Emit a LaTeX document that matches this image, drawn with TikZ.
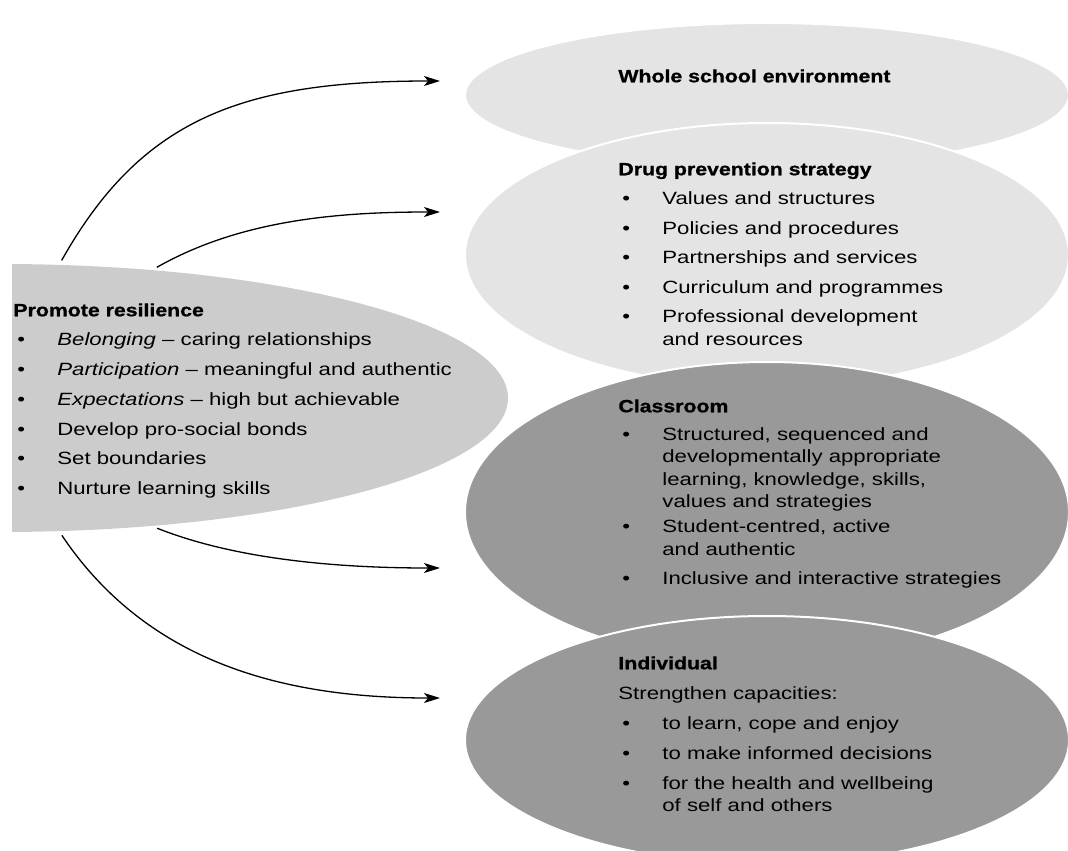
\documentclass[tikz,border=0pt]{standalone}
\usepackage{fontspec}
\setmainfont{Liberation Sans}[FakeStretch=1.25]
\newfontfamily\headfont{Liberation Sans}[FakeStretch=1.2,FakeBold=1]
\usetikzlibrary{shapes.geometric,arrows.meta}
\definecolor{palegrey}{HTML}{E4E4E4}
\definecolor{midgrey}{HTML}{CCCCCC}
\definecolor{darkgrey}{HTML}{999999}
\newcommand{\bitem}{\hspace*{2pt}\makebox[20pt][l]{\textbullet}}
\newcommand{\bcont}{\hspace*{22pt}}
\newcommand{\bhead}[1]{{\headfont\bfseries #1}}

\begin{document}
\begin{tikzpicture}[x=0.5pt,y=-0.5pt,
    zone/.style={ellipse,draw=white,line width=1pt,inner sep=0pt,minimum width=302pt},
    txt/.style={anchor=north west,inner sep=0pt,align=left,font=\fontsize{8.87}{11.25}\selectfont},
    flow/.style={-{Stealth[length=8pt,width=5pt,inset=2pt]},line width=0.65pt,shorten <=2pt}]
    \useasboundingbox (0,0) rectangle (1068,850);
    \clip (0,0) rectangle (1068,850);

    \begin{scope}
        \clip (12,0) rectangle (1068,850);
        \node[zone,draw=none,fill=midgrey,minimum width=508pt,minimum height=134pt] (resil) at (0,398) {};
    \end{scope}
    \node[zone,fill=palegrey,minimum height=72pt] (whole) at (767,95) {};
    \node[zone,fill=palegrey,minimum height=132pt] (drug) at (767,255) {};
    \node[zone,fill=darkgrey,minimum height=150pt] (class) at (767,512) {};
    \node[zone,fill=darkgrey,minimum height=124pt] (indiv) at (767,740) {};

    \node[txt] (resiltxt) at (13,303) {\bhead{Promote resilience}\\[3.6pt]
        \bitem\textit{Belonging} \textendash\ caring relationships\\[3.6pt]
        \bitem\textit{Participation} \textendash\ meaningful and authentic\\[3.6pt]
        \bitem\textit{Expectations} \textendash\ high but achievable\\[3.6pt]
        \bitem Develop pro-social bonds\\[3.6pt]
        \bitem Set boundaries\\[3.6pt]
        \bitem Nurture learning skills};
    \node[txt] (wholetxt) at (618,69) {\bhead{Whole school environment}};
    \node[txt] (drugtxt) at (618,162) {\bhead{Drug prevention strategy}\\[3.5pt]
        \bitem Values and structures\\[3.5pt]
        \bitem Policies and procedures\\[3.5pt]
        \bitem Partnerships and services\\[3.5pt]
        \bitem Curriculum and programmes\\[3.5pt]
        \bitem Professional development\\
        \bcont and resources};
    \node[txt] (classtxt) at (618,399) {\bhead{Classroom}\\[2.75pt]
        \bitem Structured, sequenced and\\
        \bcont developmentally appropriate\\
        \bcont learning, knowledge, skills,\\
        \bcont values and strategies\\[1.25pt]
        \bitem Student-centred, active\\
        \bcont and authentic\\[3.25pt]
        \bitem Inclusive and interactive strategies};
    \node[txt] (indivtxt) at (618,656) {\bhead{Individual}\\[3.75pt]
        Strengthen capacities:\\[3.75pt]
        \bitem to learn, cope and enjoy\\[3.75pt]
        \bitem to make informed decisions\\[3.75pt]
        \bitem for the health and wellbeing\\
        \bcont of self and others};

    \coordinate (tipa) at (440,81);
    \coordinate (tipb) at (440,212);
    \coordinate (tipc) at (440,568);
    \coordinate (tipd) at (440,698);
    \draw[flow] (resil.66) .. controls +(81,-144) and +(-200,0) .. (tipa);
    \draw[flow] (resil.40) .. controls +(88,-50) and +(-100,0) .. (tipb);
    \draw[flow] (resil.-40) .. controls +(88,35) and +(-90,0) .. (tipc);
    \draw[flow] (resil.-66) .. controls +(90,134) and +(-150,0) .. (tipd);
\end{tikzpicture}
\end{document}
